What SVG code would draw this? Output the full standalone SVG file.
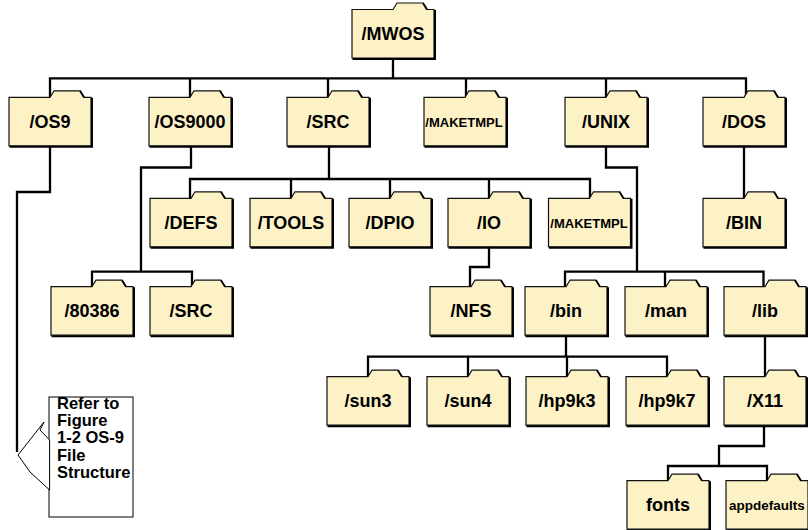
<svg xmlns="http://www.w3.org/2000/svg" xmlns:xlink="http://www.w3.org/1999/xlink" width="808" height="530" viewBox="0 0 808 530">
<style>
.lbl{font-family:"Liberation Sans",Arial,Helvetica,sans-serif;font-weight:bold;font-size:18px;fill:#000;text-anchor:middle}
.sm{font-size:13px}
.ap{font-size:13.5px}
.note{font-family:"Liberation Sans",Arial,Helvetica,sans-serif;font-weight:bold;font-size:16.5px;fill:#000}
.conn{fill:none;stroke:#000;stroke-width:2.3;stroke-linejoin:miter}
.thin{fill:#fff;stroke:#000;stroke-width:1}
</style>
<defs>
<g id="folder">
<path d="M0,0 H41 L45,-6.5 H71 L75,0 H82 V48.5 H0 Z" fill="#FDF1C6" stroke="#111" stroke-width="1.2"/>
<path d="M83,0.5 V49.5 H0.5" fill="none" stroke="#000" stroke-width="2"/>
<path d="M71,-6.5 L75,0" fill="none" stroke="#000" stroke-width="1.8"/>
</g>
</defs>

<g id="connectors">
<path class="conn" d="M393,57 V78.3 M50,97 V78.3 H746 V97 M190,78.3 V97 M328,78.3 V97 M466,78.3 V97 M606,78.3 V97"/>
<path class="conn" d="M329,146 V179 M190,198 V179 H590 V198 M291,179 V198 M390,179 V198 M489,179 V198"/>
<path class="conn" d="M191,146 V167.5 H141 V271.7 M92,286.7 V271.7 H192 V286.7"/>
<path class="conn" d="M606,146 V167.5 H637 V271.7 M565,286.7 V271.7 H763.5 V286.7 M665,271.7 V286.7"/>
<path class="conn" d="M489,246 V267 H470 V286.7"/>
<path class="conn" d="M744,146 V198"/>
<path class="conn" d="M566,335 V356.7 M368,376.7 V356.7 H667 V376.7 M468,356.7 V376.7 M567,356.7 V376.7"/>
<path class="conn" d="M765,335 V376.7"/>
<path class="conn" d="M764,425 V446 H719 V466 M668,480.7 V466 H767 V480.7"/>
<path class="conn" d="M50,146 V192 H17 V452"/>
</g>

<g id="n-mwos"><use xlink:href="#folder" x="352" y="9.5"/><text class="lbl" x="393" y="40">/MWOS</text></g>
<g id="n-os9"><use xlink:href="#folder" x="9" y="97.3"/><text class="lbl" x="50" y="128">/OS9</text></g>
<g id="n-os9000"><use xlink:href="#folder" x="149" y="97.3"/><text class="lbl" x="190" y="128">/OS9000</text></g>
<g id="n-src"><use xlink:href="#folder" x="287" y="97.3"/><text class="lbl" x="328" y="128">/SRC</text></g>
<g id="n-maketmpl"><use xlink:href="#folder" x="424" y="97.3"/><text class="lbl sm" x="464" y="126.5">/MAKETMPL</text></g>
<g id="n-unix"><use xlink:href="#folder" x="565" y="97.3"/><text class="lbl" x="606" y="128">/UNIX</text></g>
<g id="n-dos"><use xlink:href="#folder" x="703" y="97.3"/><text class="lbl" x="744" y="128">/DOS</text></g>

<g id="n-defs"><use xlink:href="#folder" x="150" y="198.3"/><text class="lbl" x="191" y="229">/DEFS</text></g>
<g id="n-tools"><use xlink:href="#folder" x="250" y="198.3"/><text class="lbl" x="291" y="229">/TOOLS</text></g>
<g id="n-dpio"><use xlink:href="#folder" x="349" y="198.3"/><text class="lbl" x="390" y="229">/DPIO</text></g>
<g id="n-io"><use xlink:href="#folder" x="448" y="198.3"/><text class="lbl" x="489" y="229">/IO</text></g>
<g id="n-maketmpl2"><use xlink:href="#folder" x="548.5" y="198.3"/><text class="lbl sm" x="589" y="227.5">/MAKETMPL</text></g>
<g id="n-bin-dos"><use xlink:href="#folder" x="703" y="198.3"/><text class="lbl" x="744" y="229">/BIN</text></g>

<g id="n-80386"><use xlink:href="#folder" x="51" y="286.7"/><text class="lbl" x="92" y="317">/80386</text></g>
<g id="n-src2"><use xlink:href="#folder" x="150" y="286.7"/><text class="lbl" x="191" y="317">/SRC</text></g>
<g id="n-nfs"><use xlink:href="#folder" x="430" y="286.7"/><text class="lbl" x="471" y="317">/NFS</text></g>
<g id="n-bin"><use xlink:href="#folder" x="525" y="286.7"/><text class="lbl" x="566" y="317">/bin</text></g>
<g id="n-man"><use xlink:href="#folder" x="625" y="286.7"/><text class="lbl" x="666" y="317">/man</text></g>
<g id="n-lib"><use xlink:href="#folder" x="724" y="286.7"/><text class="lbl" x="765" y="317">/lib</text></g>

<g id="n-sun3"><use xlink:href="#folder" x="327" y="376.7"/><text class="lbl" x="368" y="407">/sun3</text></g>
<g id="n-sun4"><use xlink:href="#folder" x="427" y="376.7"/><text class="lbl" x="468" y="407">/sun4</text></g>
<g id="n-hp9k3"><use xlink:href="#folder" x="526" y="376.7"/><text class="lbl" x="567" y="407">/hp9k3</text></g>
<g id="n-hp9k7"><use xlink:href="#folder" x="626" y="376.7"/><text class="lbl" x="667" y="407">/hp9k7</text></g>
<g id="n-x11"><use xlink:href="#folder" x="724" y="376.7"/><text class="lbl" x="765" y="407">/X11</text></g>

<g id="n-fonts"><use xlink:href="#folder" x="627" y="480.7"/><text class="lbl" x="668" y="511">fonts</text></g>
<g id="n-appdefaults"><use xlink:href="#folder" x="726" y="480.7"/><text class="lbl ap" x="767" y="509.5">appdefaults</text></g>

<g id="n-callout">
<rect class="thin" x="49" y="397" width="84" height="120"/>
<polygon class="thin" points="49.6,440 40,430 44,422 18,455 30,472 49.6,490"/>
<text class="note" x="57" y="409">Refer to</text>
<text class="note" x="57" y="426">Figure</text>
<text class="note" x="57" y="443">1-2 OS-9</text>
<text class="note" x="57" y="461">File</text>
<text class="note" x="57" y="478">Structure</text>
</g>
</svg>
